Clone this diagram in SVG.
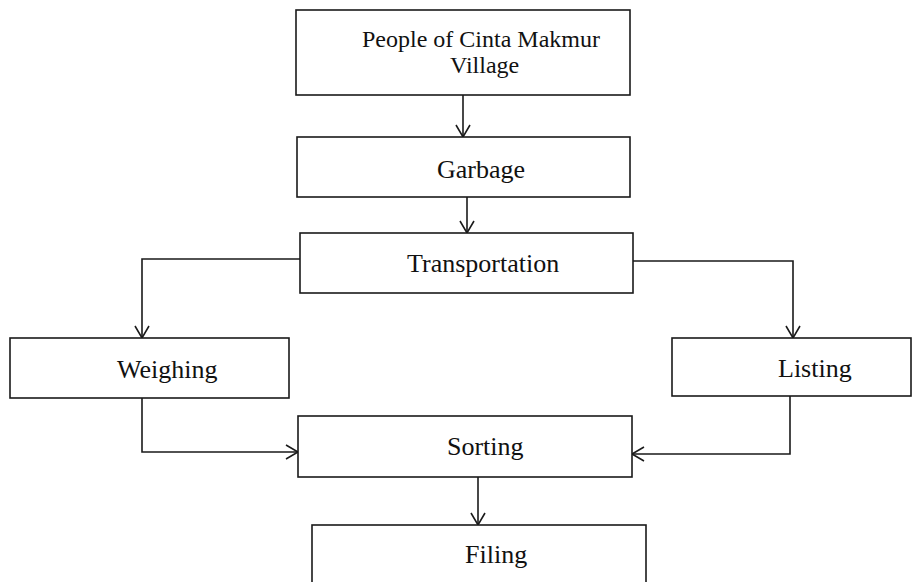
<svg xmlns="http://www.w3.org/2000/svg" width="914" height="582" viewBox="0 0 914 582">
<style>
.box{fill:#fff;stroke:#1a1a1a;stroke-width:1.6}
.lbl{font-family:"Liberation Serif","Times New Roman",serif;font-size:26px;fill:#111}
.lbl2{font-family:"Liberation Serif","Times New Roman",serif;font-size:24px;fill:#111}
.con{fill:none;stroke:#1a1a1a;stroke-width:1.6}
</style>
<defs>
<marker id="arr" markerWidth="16" markerHeight="16" refX="13" refY="8" orient="auto" markerUnits="userSpaceOnUse">
<path d="M1,1 L13,8 L1,15" fill="none" stroke="#1a1a1a" stroke-width="1.6"/>
</marker>
</defs>
<rect width="914" height="582" fill="#fff"/>
<g id="connectors">
<line class="con" x1="463" y1="95" x2="463" y2="137" marker-end="url(#arr)"/>
<line class="con" x1="467" y1="197" x2="467" y2="233" marker-end="url(#arr)"/>
<polyline class="con" points="300,259 142,259 142,338" marker-end="url(#arr)"/>
<polyline class="con" points="633,261 793,261 793,338" marker-end="url(#arr)"/>
<polyline class="con" points="142,398 142,452 298,452" marker-end="url(#arr)"/>
<polyline class="con" points="790,396 790,454 632,454" marker-end="url(#arr)"/>
<line class="con" x1="478" y1="477" x2="478" y2="525" marker-end="url(#arr)"/>
</g>
<g id="people">
<rect class="box" x="296" y="10" width="334" height="85"/>
<text class="lbl2" x="362" y="47">People of Cinta Makmur</text>
<text class="lbl2" x="450" y="73">Village</text>
</g>
<g id="garbage">
<rect class="box" x="297" y="137" width="333" height="60"/>
<text class="lbl" x="437" y="178">Garbage</text>
</g>
<g id="transportation">
<rect class="box" x="300" y="233" width="333" height="60"/>
<text class="lbl" x="407" y="272">Transportation</text>
</g>
<g id="weighing">
<rect class="box" x="10" y="338" width="279" height="60"/>
<text class="lbl" x="117" y="378">Weighing</text>
</g>
<g id="listing">
<rect class="box" x="672" y="338" width="239" height="58"/>
<text class="lbl" x="778" y="377">Listing</text>
</g>
<g id="sorting">
<rect class="box" x="298" y="416" width="334" height="61"/>
<text class="lbl" x="447" y="455">Sorting</text>
</g>
<g id="filing">
<rect class="box" x="312" y="525" width="334" height="70"/>
<text class="lbl" x="465" y="563">Filing</text>
</g>
</svg>
